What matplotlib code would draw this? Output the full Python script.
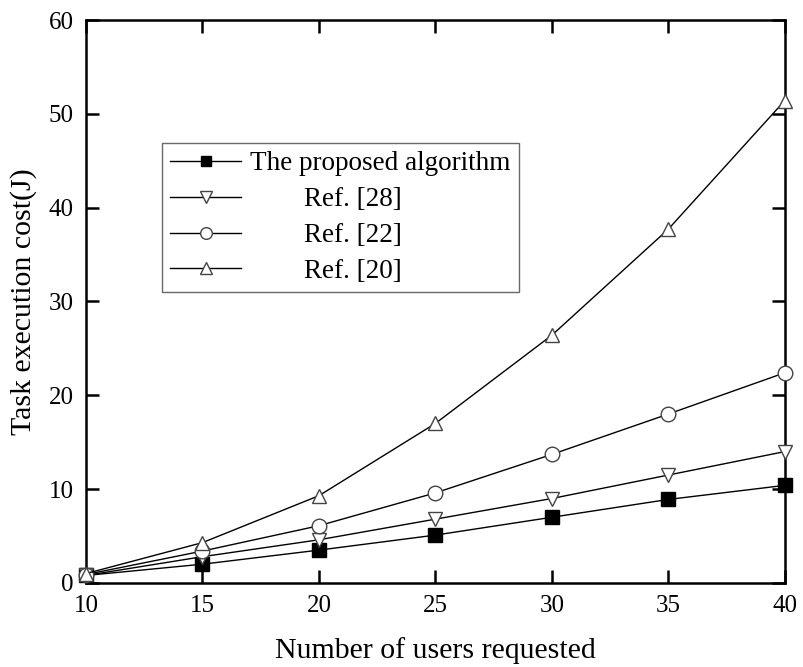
import matplotlib
matplotlib.use('Agg')
import matplotlib.pyplot as plt

users = [10, 15, 20, 25, 30, 35, 40]
proposed = [0.8, 2.0, 3.5, 5.1, 7.0, 8.9, 10.4]
ref28 = [0.8, 2.8, 4.6, 6.8, 9.0, 11.5, 14.0]
ref22 = [0.9, 3.4, 6.1, 9.6, 13.7, 18.0, 22.4]
ref20 = [1.0, 4.3, 9.3, 17.0, 26.4, 37.7, 51.4]

plt.rcParams['font.family'] = ['Liberation Serif', 'DejaVu Serif']

fig = plt.figure(figsize=(8.04, 6.67), dpi=100)
ax = fig.add_axes([0.107, 0.126, 0.869, 0.844])

lw = 1.0
ax.plot(users, proposed, color='black', lw=lw, marker='s', ms=9.5, mfc='black', mec='black',
        label='The proposed algorithm', clip_on=False, zorder=5)
ax.plot(users, ref28, color='black', lw=lw, marker='v', ms=10.5, mfc='white', mec='#444444',
        label='        Ref. [28]', clip_on=False, zorder=5)
ax.plot(users, ref22, color='black', lw=lw, marker='o', ms=10.5, mfc='white', mec='#444444',
        label='        Ref. [22]', clip_on=False, zorder=5)
ax.plot(users, ref20, color='black', lw=lw, marker='^', ms=10.5, mfc='white', mec='#444444',
        label='        Ref. [20]', clip_on=False, zorder=5)

ax.set_xlim(10, 40)
ax.set_ylim(0, 60)
ax.set_xticks([10, 15, 20, 25, 30, 35, 40])
ax.set_yticks([0, 10, 20, 30, 40, 50, 60])
ax.tick_params(direction='in', top=True, right=True, length=9.5, width=1.8, labelsize=18, pad=9)
for s in ax.spines.values():
    s.set_linewidth(1.8)

ax.set_xlabel('Number of users requested', fontsize=21.5, labelpad=14)
ax.set_ylabel('Task execution cost(J)', fontsize=21.5, labelpad=8)

leg = ax.legend(loc='upper left', bbox_to_anchor=(0.109, 0.781), borderaxespad=0, fontsize=19.5,
                frameon=True, fancybox=False, edgecolor='#444444', handlelength=2.6,
                borderpad=0.3, labelspacing=0.4, handletextpad=0.35, markerscale=0.8)
leg.get_frame().set_linewidth(1.0)

fig.savefig('out.png', dpi=100)
